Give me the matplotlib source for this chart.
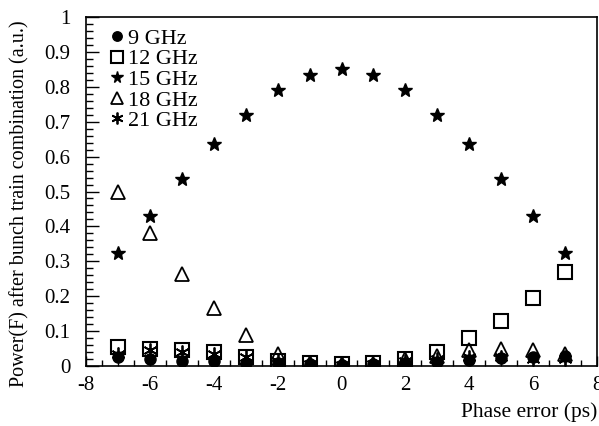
import numpy as np
import matplotlib
matplotlib.use("Agg")
import matplotlib.pyplot as plt
from matplotlib.ticker import MultipleLocator, FormatStrFormatter

# phase error points (ps) and combined power per frequency
phase = [-7, -6, -5, -4, -3, -2, -1, 0, 1, 2, 3, 4, 5, 6, 7]
p9 = [0.025, 0.02, 0.015, 0.015, 0.01, 0.008, 0.005, 0.004, 0.005, 0.008, 0.012, 0.018, 0.022, 0.025, 0.03]
p12 = [0.055, 0.05, 0.045, 0.04, 0.027, 0.015, 0.008, 0.005, 0.008, 0.02, 0.04, 0.08, 0.13, 0.195, 0.27]
p15 = [0.324, 0.43, 0.535, 0.635, 0.72, 0.79, 0.835, 0.85, 0.835, 0.79, 0.72, 0.635, 0.535, 0.43, 0.324]
p18 = [0.50, 0.38, 0.265, 0.165, 0.09, 0.035, 0.01, 0.005, 0.005, 0.02, 0.03, 0.045, 0.048, 0.045, 0.035]
p21 = [0.035, 0.045, 0.04, 0.035, 0.025, 0.015, 0.006, 0.003, 0.006, 0.015, 0.02, 0.025, 0.025, 0.02, 0.02]
labels = ["9 GHz", "12 GHz", "15 GHz", "18 GHz", "21 GHz"]

plt.rcParams["font.family"] = ["Liberation Serif", "DejaVu Serif"]
plt.rcParams["axes.unicode_minus"] = False

fig = plt.figure(figsize=(5.99, 4.26), dpi=100)
ax = fig.add_axes([0.1436, 0.1408, 0.8531, 0.8193])

ax.plot(phase, p12, ls="none", marker="s", ms=9.5, mfc="white", mec="black", mew=1.5, label=labels[1], zorder=2)
ax.plot(phase, p18, ls="none", marker="^", ms=10, mfc="none", mec="black", mew=1.3, label=labels[3], zorder=3)
ax.plot(phase, p21, ls="none", marker=(6, 2, 0), ms=10, mec="black", mew=1.3, label=labels[4], zorder=4)
ax.plot(phase, p9, ls="none", marker="o", ms=8, mfc="black", mec="black", label=labels[0], zorder=5)
ax.plot(phase, p15, ls="none", marker="*", ms=10, mfc="black", mec="black", label=labels[2], zorder=6)

ax.set_xlim(-8, 8)
ax.set_ylim(0, 1)
ax.xaxis.set_major_locator(MultipleLocator(2))
ax.xaxis.set_minor_locator(MultipleLocator(0.5))
ax.yaxis.set_major_locator(MultipleLocator(0.1))
ax.yaxis.set_minor_locator(MultipleLocator(0.02))
ax.yaxis.set_major_formatter(FormatStrFormatter("%g"))
ax.tick_params(axis="both", which="both", direction="in", top=False, right=False, labelsize=15)
ax.tick_params(axis="y", which="major", length=9, width=1, pad=11)
ax.tick_params(axis="y", which="minor", length=5, width=1)
ax.tick_params(axis="x", which="major", length=7, width=1, pad=7)
ax.tick_params(axis="x", which="minor", length=4, width=1)
for s in ax.spines.values():
    s.set_linewidth(1.2)

ax.set_xlabel("Phase error (ps)", loc="right", fontsize=15.5)
ax.set_ylabel("Power(F) after bunch train combination (a.u.)", loc="top", fontsize=14.5)
ax.yaxis.set_label_coords(-0.110, 0.991)
ax.xaxis.set_label_coords(1.0, -0.105)

handles, labs = ax.get_legend_handles_labels()
order = [labs.index(l) for l in labels]
ax.legend([handles[i] for i in order], [labs[i] for i in order], loc="upper left",
          frameon=False, fontsize=16, handletextpad=0.15, labelspacing=0.0,
          borderaxespad=0.0, handlelength=0.7, markerscale=0.85,
          bbox_to_anchor=(0.028, 0.993))

fig.savefig("out.png", dpi=100)
